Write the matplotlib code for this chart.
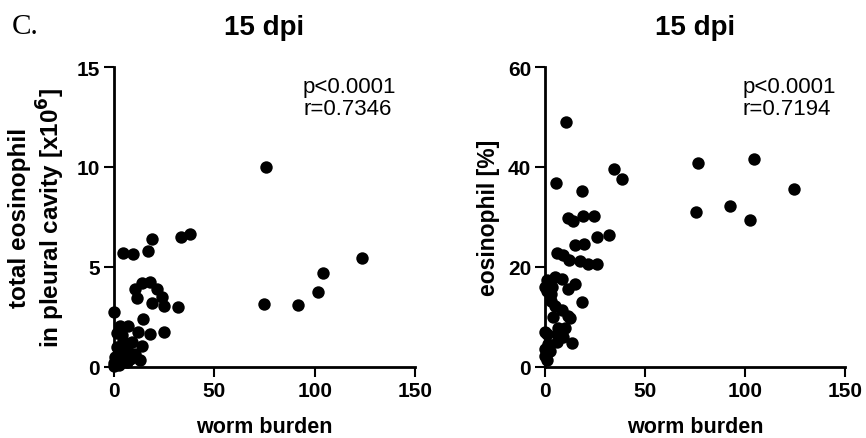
import matplotlib
matplotlib.use("Agg")
import matplotlib.pyplot as plt

# ---- data ----
worm_total = [0, 0, 2.5, 0.5, 6.7, 5.5, 10.5, 13, 1.7, 6.7, 13.8, 4.3, 9.2, 1.7, 12.2, 18,
              24.7, 3, 7.2, 14.7, 0, 11.5, 18.8, 25, 31.8, 23.8, 10.5, 21.3, 13.8, 18,
              4.7, 9.7, 16.8, 18.8, 33.5, 37.7, 75.8, 74.7, 91.7, 101.7, 104, 123.7,
              3, 8, 4, 2]
eos_total = [0.05, 0.2, 0.12, 0.5, 0.25, 0.57, 0.65, 0.33, 1.0, 0.9, 1.07, 1.3, 1.25, 1.7,
             1.73, 1.65, 1.73, 2.07, 2.07, 2.4, 2.75, 3.45, 3.2, 3.05, 3.0, 3.5, 3.9, 3.9,
             4.2, 4.25, 5.7, 5.65, 5.8, 6.4, 6.5, 6.65, 10.0, 3.15, 3.1, 3.75, 4.7, 5.45,
             0.6, 0.4, 1.6, 0.3]

worm_pct = [10.5, 34.7, 38.5, 5.5, 18.3, 11.7, 14.2, 19.2, 24.7, 25.8, 32.2, 15, 19.7, 5.8,
            8.8, 12.2, 17.5, 21.7, 25.8, 5, 8.3, 1, 0, 3.3, 15, 11.7, 0.8, 18.3, 3, 2.8, 5,
            8.3, 11.7, 4.2, 12.5, 6.7, 10, 0.8, 5.8, 9.2, 0, 13.3, 1.7, 5.8, 0, 2.5, 0, 0.8,
            76.3, 104.3, 124.3, 75.5, 92.5, 102.5]
eos_pct = [49, 39.7, 37.7, 36.9, 35.2, 29.9, 29.3, 30.3, 30.3, 26.1, 26.4, 24.4, 24.7, 22.9,
           22.5, 21.4, 21.2, 20.7, 20.7, 18, 17.6, 17.5, 16, 16.1, 16.7, 15.7, 15.3, 13, 14.6,
           13.3, 12.3, 11.5, 10.3, 10, 9.9, 7.8, 7.8, 6.6, 6.6, 6, 7, 4.8, 4.6, 5, 3.7, 3.3,
           2.3, 1.4, 40.9, 41.6, 35.7, 31, 32.3, 29.5]

x_ticks = [0, 50, 100, 150]
y_ticks_total = [0, 5, 10, 15]
y_ticks_pct = [0, 20, 40, 60]

plt.rcParams['font.family'] = ['Liberation Sans', 'DejaVu Sans']

fig = plt.figure(figsize=(8.66, 4.39), dpi=100)
W, H = 866, 439

def make_ax(left_px, right_px, top_px, bottom_px):
    return fig.add_axes([left_px / W, (H - bottom_px) / H,
                         (right_px - left_px) / W, (bottom_px - top_px) / H])

ax1 = make_ax(114, 415, 68, 368)
ax2 = make_ax(545, 845, 68, 368)

def style(ax, x, y, yticks, ylabel, ylab_x, ylab_size, ptxt_x, r_txt):
    ax.scatter(x, y, s=80, color='black', clip_on=False, zorder=3, linewidths=0)
    ax.set_xlim(0, 150)
    ax.set_ylim(yticks[0], yticks[-1])
    ax.set_xticks(x_ticks)
    ax.set_yticks(yticks)
    for s in ['top', 'right']:
        ax.spines[s].set_visible(False)
    for s in ['left', 'bottom']:
        ax.spines[s].set_linewidth(2)
    ax.tick_params(axis='both', direction='out', length=7, width=1.5, pad=3,
                   labelsize=15)
    for lab in ax.get_xticklabels() + ax.get_yticklabels():
        lab.set_fontweight('bold')
    ax.set_xlabel('worm burden', fontsize=15.5, fontweight='bold')
    ax.xaxis.set_label_coords(0.5, -0.165)
    ax.set_ylabel(ylabel, fontsize=ylab_size, fontweight='bold', linespacing=1.15)
    ax.yaxis.set_label_coords(ylab_x, 0.5)
    ax.set_title('15 dpi', fontsize=20, fontweight='bold', pad=24)
    ax.text(ptxt_x, 0.917, 'p<0.0001', transform=ax.transAxes, fontsize=16,
            ha='left', va='baseline')
    ax.text(ptxt_x, 0.843, r_txt, transform=ax.transAxes, fontsize=16,
            ha='left', va='baseline')

style(ax1, worm_total, eos_total, y_ticks_total,
      'total eosinophil\nin pleural cavity [x10$^{\\mathbf{6}}$]', -0.155, 17.5, 0.628, 'r=0.7346')
style(ax2, worm_pct, eos_pct, y_ticks_pct, 'eosinophil [%]', -0.15, 16.5, 0.66, 'r=0.7194')

fig.text(12 / W, (H - 34) / H, 'C.', fontsize=21, family='Liberation Serif',
         ha='left', va='baseline')

fig.savefig('out.png', dpi=100)
